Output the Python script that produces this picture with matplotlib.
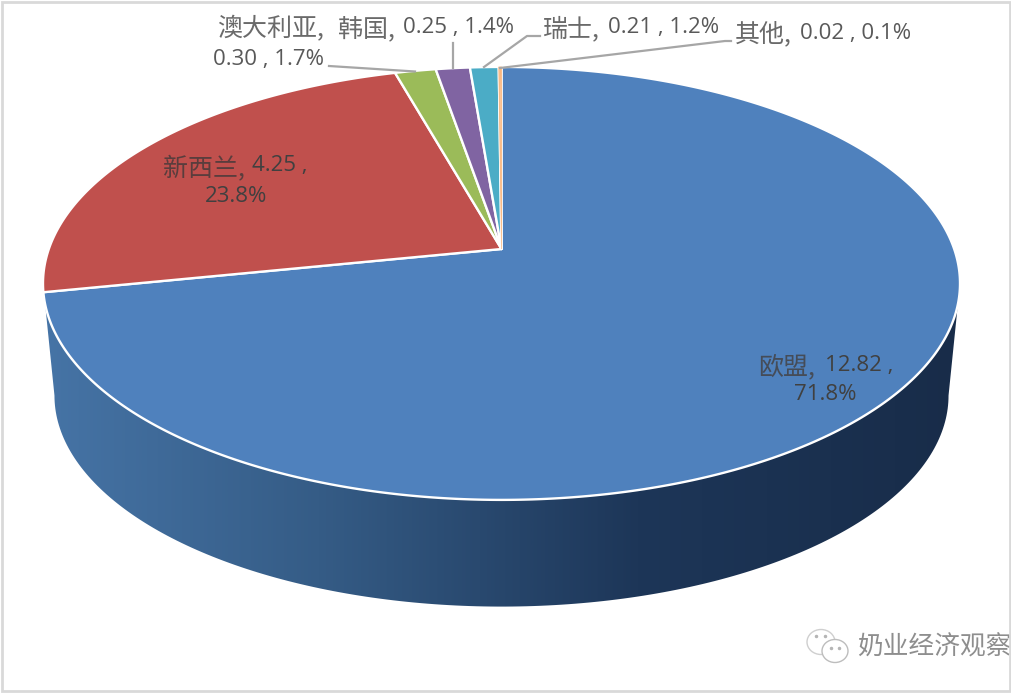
import numpy as np
import matplotlib
matplotlib.use("Agg")
import matplotlib.pyplot as plt
from matplotlib.colors import LinearSegmentedColormap
from matplotlib.patches import Ellipse, Polygon, Rectangle

plt.rcParams["font.family"] = ["Open Sans", "Noto Sans CJK SC", "DejaVu Sans"]

# data, clockwise from 12 o'clock
names = ["欧盟", "新西兰", "澳大利亚", "韩国", "瑞士", "其他"]
values = [12.82, 4.25, 0.30, 0.25, 0.21, 0.02]
shares = ["71.8%", "23.8%", "1.7%", "1.4%", "1.2%", "0.1%"]
colours = ["#4f81bd", "#c0504d", "#9bbb59", "#8064a2", "#4bacc6", "#f79646"]

TEXT = "#595959"
TEXT_CJK = "#6a6a6a"
LEADER = "#a6a6a6"
FRAME = "#d9d9d9"

# pie geometry in pixels: apex, rim ellipse, lower rim ellipse
APEX_X, APEX_Y = 501.5, 249.0
RX, RY = 458.5, 216.5
RIM_Y = 283.5
DEPTH = 112.0
LOWER_SCALE = 0.975
TILT = 0.159
A = RX * np.sqrt(1 - TILT ** 2)
B = 211.0


def project(theta):
    # perspective view of a flat disc, theta clockwise from the top
    u, v = np.sin(theta), np.cos(theta)
    w = 1 + TILT * v
    return APEX_X + A * u / w, APEX_Y - B * v / w


def name_label(x, y, i, color=TEXT_CJK):
    ax.text(x, y, names[i] + ",", color=color, fontsize=18, ha="left",
            va="center", zorder=5, family=["Noto Sans CJK SC"])


def num_label(x, y, s, color=TEXT):
    ax.text(x, y, s, color=color, fontsize=16, ha="left", va="center", zorder=5)


fig = plt.figure(figsize=(10.15, 6.96), dpi=100)
ax = fig.add_axes([0, 0, 1, 1])

# side wall with left-to-right shading
phi = np.linspace(0, np.pi, 200)
low_x = APEX_X + RX * LOWER_SCALE * np.cos(phi)
low_y = RIM_Y + DEPTH + RY * LOWER_SCALE * np.sin(phi)
wall_pts = np.vstack([
    [[APEX_X + RX, RIM_Y]],
    np.column_stack([low_x, low_y]),
    [[APEX_X - RX, RIM_Y]],
])
wall = Polygon(wall_pts, closed=True, facecolor="none", edgecolor="none")
ax.add_patch(wall)
shade = LinearSegmentedColormap.from_list(
    "wall", [(0, "#4674a6"), (0.3, "#355c86"), (0.65, "#1d3658"), (1, "#182c49")])
grad = np.linspace(0, 1, 512).reshape(1, -1)
im = ax.imshow(grad, cmap=shade, aspect="auto",
               extent=[APEX_X - RX, APEX_X + RX, RIM_Y + DEPTH + RY, RIM_Y - RY])
im.set_clip_path(wall)

# top face
edges = np.cumsum([0] + values) / sum(values) * 2 * np.pi
for start, end, col in zip(edges[:-1], edges[1:], colours):
    n = max(int((end - start) * 120), 4)
    xs, ys = project(np.linspace(start, end, n))
    pts = np.vstack([[[APEX_X, APEX_Y]], np.column_stack([xs, ys])])
    ax.add_patch(Polygon(pts, closed=True, facecolor=col, edgecolor="white",
                         linewidth=1.7, joinstyle="round", zorder=3))

# the last slice is thinner than its white edge, so redraw it on top
xs, ys = project(np.linspace(edges[-2], edges[-1], 4))
ax.add_patch(Polygon(np.vstack([[[APEX_X, APEX_Y]], np.column_stack([xs, ys])]),
                     closed=True, facecolor=colours[-1], edgecolor=colours[-1],
                     linewidth=0.6, alpha=0.55, zorder=3.5))

# leader lines
leaders = [
    [(329, 66), (415, 71.5)],
    [(453, 43), (453, 68)],
    [(484, 67), (527, 36), (540, 36)],
    [(500, 68), (725, 41), (731, 41)],
]
for line in leaders:
    ax.plot(*zip(*line), color=LEADER, linewidth=1.6, zorder=4)

# data labels
DARK = "#404040"
name_label(758, 367, 0, "#454c58")
num_label(825, 365, f"{values[0]:.2f} ,", DARK)
num_label(794, 394, shares[0], DARK)
name_label(163, 169, 1, "#5a3d3d")
num_label(252, 166, f"{values[1]:.2f} ,", DARK)
num_label(205, 197, shares[1], DARK)
name_label(217, 29, 2)
num_label(213, 60, f"{values[2]:.2f} , {shares[2]}")
name_label(338, 29, 3)
num_label(403, 28, f"{values[3]:.2f} , {shares[3]}")
name_label(543, 29, 4)
num_label(608, 28, f"{values[4]:.2f} , {shares[4]}")
name_label(735, 34, 5)
num_label(800, 33, f"{values[5]:.2f} , {shares[5]}")

# watermark
ax.text(857, 648, "奶业经济观察", color="#8e8e8e", fontsize=18.5,
        family=["Noto Sans CJK SC"], ha="left", va="center", zorder=5)
ax.add_patch(Ellipse((821, 642), 28, 25, facecolor="white", edgecolor="#cfcfcf",
                     linewidth=1.0, zorder=5))
ax.add_patch(Ellipse((835, 651), 26, 23, facecolor="white", edgecolor="#bdbdbd",
                     linewidth=1.0, zorder=6))
ax.plot([816, 825, 831, 839], [636, 636, 648, 648], linestyle="none", marker="o",
        markersize=1.5, color="#b5b5b5", zorder=7)

# picture frame
ax.add_patch(Rectangle((2, 2), 1008, 689, facecolor="none", edgecolor=FRAME,
                       linewidth=2, zorder=7))
ax.add_patch(Rectangle((1011, 0), 4, 696, facecolor="white", edgecolor="none", zorder=7))

ax.set_xlim(0, 1015)
ax.set_ylim(696, 0)
ax.axis("off")

fig.savefig("out.png", dpi=100, facecolor="white")
